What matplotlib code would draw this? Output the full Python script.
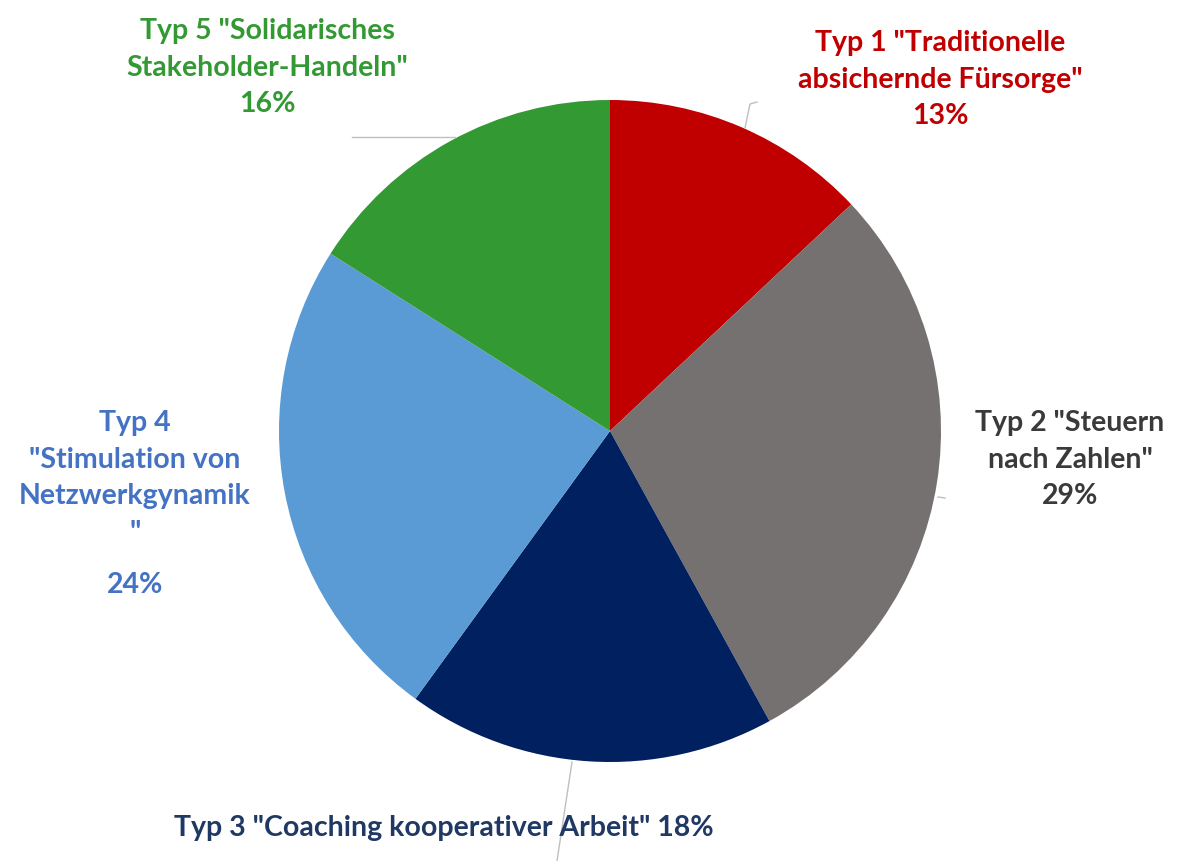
import matplotlib
matplotlib.use("Agg")
import matplotlib.pyplot as plt

plt.rcParams['font.family'] = ['Lato', 'DejaVu Sans']

categories = ['Typ 1 "Traditionelle\nabsichernde Fürsorge"',
              'Typ 2 "Steuern\nnach Zahlen"',
              'Typ 3 "Coaching kooperativer Arbeit"',
              'Typ 4\n"Stimulation von\nNetzwerkgynamik\n"',
              'Typ 5 "Solidarisches\nStakeholder-Handeln"']
values = [13, 29, 18, 24, 16]
slice_colors = ['#C00000', '#767171', '#002060', '#5B9BD5', '#339933']
text_colors = ['#C00000', '#3A3A3A', '#1F3864', '#4472C4', '#339933']

W, H = 1178, 861
fig = plt.figure(figsize=(W / 100, H / 100), dpi=100)
ax = fig.add_axes([0, 0, 1, 1])

cx, cy, r = 610, H - 431, 331
ax.pie(values, colors=slice_colors, startangle=90, counterclock=False,
       center=(cx, cy), radius=r, frame=True,
       wedgeprops=dict(linewidth=0))
ax.set_xlim(0, W)
ax.set_ylim(0, H)
ax.set_aspect('equal')
ax.axis('off')

fs = 20.5
ls = 1.5
lc = '#BFBFBF'
# leader lines
ax.plot([745, 750, 757], [H - 128, H - 104, H - 102], color=lc, lw=1)
ax.plot([352, 455], [H - 137, H - 137], color=lc, lw=1)
ax.plot([938, 945], [H - 497, H - 498], color=lc, lw=1)
ax.plot([572, 557], [H - 762, H - 861], color=lc, lw=1)

# labels
pct = [f"{v}%" for v in values]
ax.text(940, H - 80, categories[0] + "\n" + pct[0], ha='center', va='center',
        fontsize=fs, fontweight='bold', color=text_colors[0], linespacing=ls)
ax.text(1070, H - 460, categories[1] + "\n" + pct[1], ha='center', va='center',
        fontsize=fs, fontweight='bold', color=text_colors[1], linespacing=ls)
ax.text(444, H - 828, categories[2] + " " + pct[2], ha='center', va='center',
        fontsize=fs, fontweight='bold', color=text_colors[2])
ax.text(135, H - 478, categories[3], ha='center', va='center',
        fontsize=fs, fontweight='bold', color=text_colors[3], linespacing=ls)
ax.text(135, H - 585, pct[3], ha='center', va='center',
        fontsize=fs, fontweight='bold', color=text_colors[3])
ax.text(267, H - 68, categories[4] + "\n" + pct[4], ha='center', va='center',
        fontsize=fs, fontweight='bold', color=text_colors[4], linespacing=ls)

fig.savefig('out.png', dpi=100, facecolor='white')
